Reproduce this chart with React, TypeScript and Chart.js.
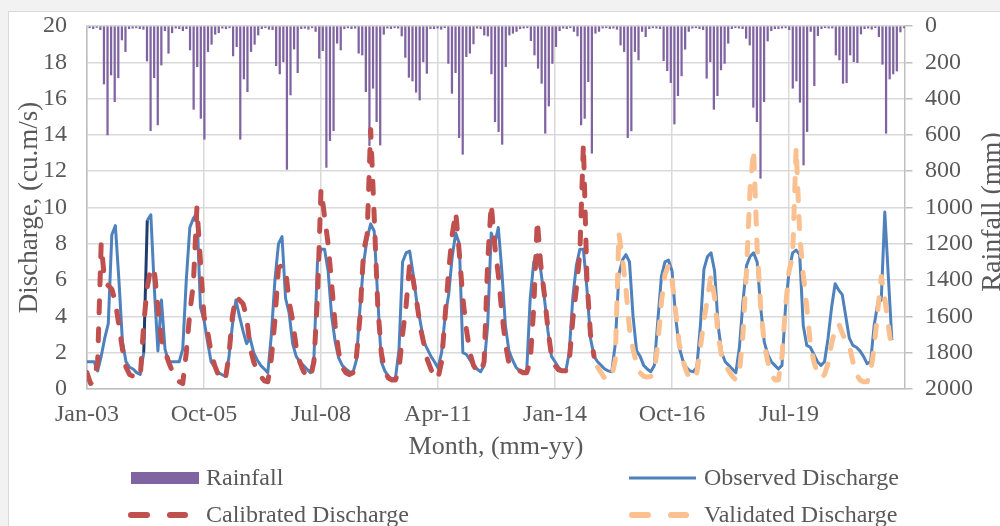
import React, { useEffect, useRef } from 'react';
import { Chart, registerables } from 'chart.js';

Chart.register(...registerables);

// ---------- categories ----------
const MONTH_NAMES = ['Jan', 'Feb', 'Mar', 'Apr', 'May', 'Jun', 'Jul', 'Aug', 'Sep', 'Oct', 'Nov', 'Dec'];
const START_YEAR = 2003;
const N_MONTHS = 228; // Jan-03 .. Dec-21
const months: string[] = Array.from({ length: N_MONTHS }, (_, i) =>
  `${MONTH_NAMES[i % 12]}-${String((START_YEAR + Math.floor(i / 12)) % 100).padStart(2, '0')}`
);
const xTickLabels = ['Jan-03', 'Oct-05', 'Jul-08', 'Apr-11', 'Jan-14', 'Oct-16', 'Jul-19'];

// ---------- series (monthly) ----------
const rainfall = [
  10, 15, 8, 20, 320, 600, 270, 417, 285, 77, 141, 15,
  12, 10, 15, 18, 193, 577, 285, 545, 215, 26, 150, 37,
  12, 15, 26, 15, 132, 459, 224, 509, 624, 141, 101, 46,
  37, 12, 15, 10, 165, 114, 624, 292, 362, 141, 101, 50,
  15, 10, 18, 20, 219, 264, 197, 790, 380, 127, 257, 15,
  12, 18, 10, 30, 178, 136, 779, 632, 577, 95, 132, 15,
  10, 15, 12, 150, 160, 362, 659, 343, 527, 656, 46, 12,
  15, 10, 12, 55, 173, 283, 303, 365, 408, 197, 261, 15,
  15, 12, 18, 10, 206, 371, 257, 615, 707, 169, 150, 99,
  12, 15, 50, 55, 264, 527, 582, 652, 224, 50, 40, 30,
  15, 12, 10, 81, 160, 233, 316, 591, 441, 206, 114, 26,
  12, 15, 10, 30, 55, 545, 509, 307, 701, 40, 30, 12,
  10, 15, 12, 18, 105, 141, 615, 578, 141, 187, 30, 59,
  15, 10, 12, 15, 191, 246, 312, 540, 384, 275, 128, 30,
  12, 10, 15, 20, 288, 197, 459, 384, 242, 206, 95, 15,
  10, 12, 15, 68, 105, 448, 527, 839, 417, 83, 26, 15,
  15, 12, 10, 20, 343, 303, 420, 766, 582, 30, 329, 53,
  15, 10, 12, 12, 160, 187, 316, 312, 160, 197, 202, 44,
  15, 12, 18, 10, 59, 211, 591, 292, 264, 248, 33, 10,
];

const observed = [
  1.5, 1.5, 1.5, 1.0, 1.8, 2.8, 3.6, 8.5, 9.0, 6.0, 2.6, 1.5,
  1.2, 1.1, 0.9, 0.8, 2.0, 9.3, 9.6, 5.5, 2.1, 4.9, 2.2, 1.5,
  1.5, 1.5, 1.5, 2.2, 6.0, 8.9, 9.4, 9.7, 4.5, 3.8, 2.6, 1.5,
  1.2, 0.9, 0.8, 0.7, 1.7, 3.5, 4.9, 4.0, 3.2, 2.5, 2.8, 2.0,
  1.6, 1.3, 1.1, 0.9, 3.0, 6.0, 8.0, 8.4, 5.0, 4.2, 2.5, 1.8,
  1.5, 1.3, 1.1, 0.9, 1.7, 7.0, 7.7, 7.7, 6.5, 4.0, 2.6, 1.7,
  1.3, 1.1, 0.95, 0.9, 1.6, 4.5, 6.9, 8.3, 9.1, 8.7, 5.0, 1.5,
  1.0, 0.7, 0.55, 0.6, 2.2, 7.0, 7.5, 7.6, 6.3, 4.8, 3.7, 2.6,
  2.2, 1.8, 1.5, 1.15, 2.0, 4.0, 5.2, 7.3, 8.6, 8.0, 2.0, 1.9,
  1.6, 1.3, 1.1, 0.95, 1.3, 3.5, 8.6, 8.0, 8.9, 6.5, 3.5, 2.1,
  1.6, 1.2, 1.0, 0.95, 0.95, 5.0, 7.0, 7.4, 6.5, 5.0, 3.2, 1.8,
  1.5, 1.2, 1.0, 0.95, 2.0, 5.0, 6.8, 7.7, 7.7, 5.5, 2.8, 1.8,
  1.5, 1.3, 1.1, 1.0, 0.95, 2.5, 6.3, 7.1, 7.4, 7.0, 4.0, 2.1,
  1.8, 1.3, 1.1, 0.95, 1.3, 3.8, 6.2, 7.0, 7.1, 6.5, 4.0, 2.3,
  1.6, 1.2, 1.0, 0.95, 1.2, 3.5, 6.6, 7.3, 7.5, 6.5, 3.5, 2.0,
  1.5, 1.3, 1.1, 0.9, 2.3, 4.8, 6.8, 7.3, 7.5, 7.0, 4.5, 2.6,
  1.9, 1.5, 1.3, 1.1, 1.3, 4.5, 6.5, 7.5, 7.65, 7.4, 3.5, 2.4,
  2.3, 1.9, 1.5, 1.3, 1.5, 2.8, 4.5, 5.8, 5.45, 5.2, 4.0, 2.8,
  2.4, 2.3, 2.1, 1.8, 1.4, 1.5, 3.5, 4.7, 4.9, 9.75, 6.2, 2.7,
];

// Jan-03 .. Dec-14
const calibrated = [
  0.9, 0.3, 0.5, 1.5, 8.0, 5.9, 5.7, 5.5, 4.8, 3.5, 2.2, 1.2,
  0.8, 0.7, 0.65, 0.6, 3.6, 5.6, 6.7, 6.5, 4.5, 2.7, 2.1, 1.5,
  1.0, 0.6, 0.4, 0.3, 2.0, 4.2, 5.8, 10.0, 7.0, 4.0, 3.2, 2.0,
  1.3, 0.8, 0.5, 0.5, 1.8, 4.0, 5.1, 4.9, 4.7, 4.0, 2.3, 1.5,
  1.0, 0.7, 0.45, 0.4, 1.7, 3.8, 6.7, 6.8, 6.6, 4.8, 3.8, 2.3,
  1.5, 1.0, 0.7, 0.6, 1.5, 5.0, 11.0, 9.5, 8.0, 5.8, 3.5, 2.0,
  1.2, 0.9, 0.8, 0.9, 1.8, 4.0, 7.6, 8.5, 14.3, 9.5, 4.6, 2.0,
  1.0, 0.6, 0.5, 0.5, 1.1, 3.0, 4.6, 6.9, 6.0, 4.8, 3.4, 2.5,
  1.6, 1.1, 0.6, 0.6, 1.5, 4.0, 6.5, 8.5, 9.75, 7.5, 5.0, 3.3,
  2.0, 1.3, 1.0, 0.9, 1.5, 7.0, 10.2, 7.9, 6.3, 4.2, 2.5, 1.4,
  1.2, 1.1, 1.0, 0.9, 0.9, 1.5, 4.5, 9.3, 6.8, 5.2, 3.3, 1.8,
  1.3, 1.05, 1.0, 1.0, 1.5, 3.8, 5.5, 7.5, 13.5, 6.0, 3.0, 1.8,
];

// Jan-15 .. Dec-21
const validated = [
  1.2, 0.9, 0.6, 0.5, 0.7, 1.6, 8.6, 7.2, 5.5, 3.3, 2.2, 1.4,
  0.9, 0.7, 0.65, 0.7, 1.0, 2.5, 4.8, 6.3, 6.8, 6.0, 4.3, 2.5,
  1.6, 1.0, 0.6, 0.5, 0.9, 2.3, 3.8, 5.0, 6.3, 5.0, 3.0, 1.8,
  1.3, 1.0, 0.7, 0.5, 0.9, 3.0, 6.5, 11.0, 13.2, 7.8, 4.5, 2.5,
  1.5, 0.8, 0.5, 0.5, 1.8, 4.5, 6.5, 7.3, 13.3, 8.5, 6.3, 4.5,
  2.5, 1.5, 0.9, 0.6, 0.8, 1.4, 2.5, 3.3, 3.6, 3.1, 2.6, 2.4,
  1.5, 0.8, 0.5, 0.4, 0.4, 0.9, 2.3, 4.3, 6.2, 5.0, 3.5, 2.1,
];
const validatedStart = months.indexOf('Jan-15');

// ---------- styling ----------
const FONT = 'Liberation Serif';
const TEXT = '#595959';
const GRID = '#d9d9d9';
const AXIS = '#bfbfbf';
const C_RAIN = '#8064A2';
const C_OBS = '#4F81BD';
const C_OBS_DARK = '#1F3D6E';
const C_CAL = '#C0504D';
const C_VAL = '#FAC090';

const extrasPlugin = {
  id: 'extras',
  afterDraw(chart: any) {
    const { ctx } = chart;
    // right axis title (reads bottom-to-top)
    ctx.save();
    ctx.font = `28px "${FONT}"`;
    ctx.fillStyle = TEXT;
    ctx.textAlign = 'center';
    ctx.textBaseline = 'middle';
    ctx.translate(993, 212);
    ctx.rotate(-Math.PI / 2);
    ctx.fillText('Rainfall (mm)', 0, 0);
    ctx.restore();

    // legend (2 x 2)
    ctx.save();
    ctx.font = `24px "${FONT}"`;
    ctx.fillStyle = TEXT;
    ctx.textAlign = 'left';
    ctx.textBaseline = 'alphabetic';
    const row1 = 478;
    const row2 = 515;
    // Rainfall
    ctx.fillStyle = C_RAIN;
    ctx.fillRect(131, row1 - 6, 68, 12);
    ctx.fillStyle = TEXT;
    ctx.fillText('Rainfall', 206, row1 + 7);
    // Observed
    ctx.strokeStyle = C_OBS;
    ctx.lineWidth = 3;
    ctx.beginPath();
    ctx.moveTo(629, row1);
    ctx.lineTo(696, row1);
    ctx.stroke();
    ctx.fillText('Observed Discharge', 704, row1 + 7);
    // Calibrated / Validated dashes
    ctx.lineCap = 'round';
    ctx.lineWidth = 6;
    const dashes = (x0: number, color: string) => {
      ctx.strokeStyle = color;
      ctx.beginPath();
      ctx.moveTo(x0 + 3, row2);
      ctx.lineTo(x0 + 19, row2);
      ctx.moveTo(x0 + 42, row2);
      ctx.lineTo(x0 + 57, row2);
      ctx.stroke();
    };
    dashes(128, C_CAL);
    ctx.fillText('Calibrated Discharge', 206, row2 + 7);
    dashes(629, C_VAL);
    ctx.fillText('Validated Discharge', 704, row2 + 7);
    ctx.restore();
  },
};

export default function App() {
  const canvasRef = useRef<HTMLCanvasElement | null>(null);

  useEffect(() => {
    const canvas = canvasRef.current;
    if (!canvas) return;
    const tickFont = { family: FONT, size: 24 };
    const titleFont = { family: FONT, size: 27 };

    const chart = new Chart(canvas, {
      type: 'bar',
      data: {
        labels: months,
        datasets: [
          {
            type: 'line',
            label: 'Validated Discharge',
            data: validated.map((v, i) => ({ x: validatedStart + i, y: v })),
            xAxisID: 'x',
            yAxisID: 'y',
            borderColor: C_VAL,
            borderWidth: 5,
            borderDash: [12, 16],
            borderCapStyle: 'round',
            borderJoinStyle: 'round',
            pointRadius: 0,
            tension: 0,
            order: 1,
          } as any,
          {
            type: 'line',
            label: 'Calibrated Discharge',
            data: calibrated.map((v, i) => ({ x: i, y: v })),
            xAxisID: 'x',
            yAxisID: 'y',
            borderColor: C_CAL,
            borderWidth: 5,
            borderDash: [12, 16],
            borderCapStyle: 'round',
            borderJoinStyle: 'round',
            pointRadius: 0,
            tension: 0,
            order: 2,
          } as any,
          {
            type: 'line',
            label: 'Observed Discharge',
            data: observed.map((v, i) => ({ x: i, y: v })),
            xAxisID: 'x',
            yAxisID: 'y',
            borderColor: C_OBS,
            borderWidth: 3,
            borderJoinStyle: 'round',
            pointRadius: 0,
            tension: 0,
            segment: {
              borderColor: (c: any) => (c.p0DataIndex === 16 ? C_OBS_DARK : undefined),
            },
            order: 3,
          } as any,
          {
            type: 'bar',
            label: 'Rainfall',
            data: rainfall,
            xAxisID: 'xb',
            yAxisID: 'y2',
            backgroundColor: C_RAIN,
            borderWidth: 0,
            barThickness: 1.6,
            order: 4,
          } as any,
        ],
      },
      options: {
        responsive: false,
        animation: false,
        events: [],
        layout: { padding: { left: 10, top: 26, right: 0, bottom: 63.4 } },
        plugins: {
          legend: { display: false },
          tooltip: { enabled: false },
        },
        scales: {
          x: {
            type: 'linear',
            position: 'bottom',
            offset: false,
            min: 0,
            max: 230.7,
            afterBuildTicks: (axis: any) => {
              axis.ticks = xTickLabels.map((l) => ({ value: months.indexOf(l) }));
            },
            afterFit: (s: any) => {
              s.height = 73.6;
            },
            ticks: {
              autoSkip: false,
              maxRotation: 0,
              font: tickFont,
              color: TEXT,
              padding: 11,
              callback: (v: any) => months[Math.round(Number(v))] ?? '',
            },
            grid: { color: GRID, lineWidth: 1.5, drawTicks: false, offset: false },
            border: { color: AXIS, width: 1.5 },
            title: { display: true, text: 'Month, (mm-yy)', font: { family: FONT, size: 26 }, color: TEXT, padding: 0 },
          },
          xb: {
            type: 'category',
            offset: true,
            display: false,
            grid: { display: false },
          },
          y: {
            position: 'left',
            min: 0,
            max: 20,
            afterFit: (s: any) => {
              s.width = 77;
            },
            ticks: { stepSize: 2, font: tickFont, color: TEXT, padding: 0 },
            grid: {
              color: GRID,
              lineWidth: 1.5,
              drawTicks: true,
              tickLength: 20,
              tickColor: 'rgba(0,0,0,0)',
            },
            border: { color: AXIS, width: 1.5 },
            title: {
              display: true,
              text: 'Discharge, (cu.m/s)',
              font: titleFont,
              color: TEXT,
              padding: { top: 4, bottom: 0 },
            },
          },
          y2: {
            position: 'right',
            reverse: true,
            min: 0,
            max: 2000,
            afterFit: (s: any) => {
              s.width = 95;
            },
            ticks: {
              stepSize: 200,
              font: tickFont,
              color: TEXT,
              padding: 0,
              callback: (v: any) => String(v),
            },
            grid: {
              drawOnChartArea: false,
              drawTicks: true,
              tickLength: 20,
              tickBorderDash: [7, 60],
              tickColor: AXIS,
              color: AXIS,
              lineWidth: 1.5,
            },
            border: { color: AXIS, width: 1.5 },
          },
        },
      } as any,
      plugins: [extrasPlugin],
    });

    return () => {
      chart.destroy();
    };
  }, []);

  return (
    <div style={{ position: 'fixed', inset: 0, background: '#f2f2f2', overflow: 'hidden' }}>
      <div
        style={{
          position: 'absolute',
          left: 8,
          top: 11,
          width: 1100,
          height: 600,
          background: '#ffffff',
          border: '1px solid #d9d9d9',
        }}
      />
      <canvas
        ref={canvasRef}
        width={1000}
        height={526}
        style={{ position: 'absolute', left: 0, top: 0, width: 1000, height: 526 }}
      />
    </div>
  );
}
